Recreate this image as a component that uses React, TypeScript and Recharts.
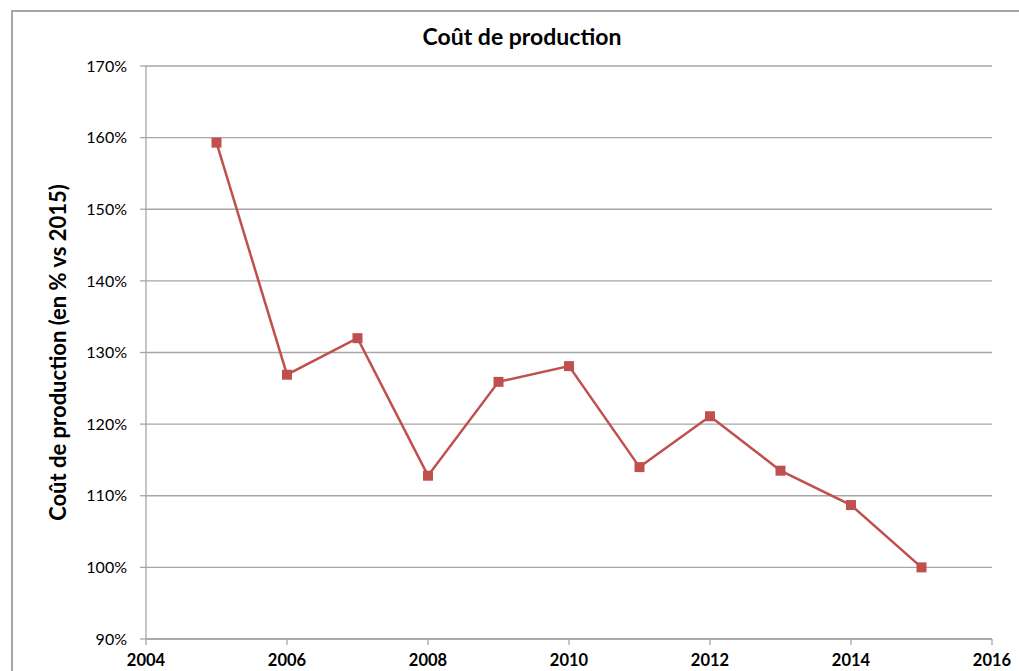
import { LineChart, Line, XAxis, YAxis, CartesianGrid } from 'recharts';

const years = [2005, 2006, 2007, 2008, 2009, 2010, 2011, 2012, 2013, 2014, 2015];
const cost = [159.3, 126.9, 132.0, 112.8, 125.9, 128.1, 114.0, 121.1, 113.5, 108.7, 100.0];
const xTicks = [2004, 2006, 2008, 2010, 2012, 2014, 2016];
const yTicks = [90, 100, 110, 120, 130, 140, 150, 160, 170];

const data = years.map((y, i) => ({ year: y, cost: cost[i] }));

const RED = '#c0504d';
const GRID = '#a6a6a6';
const FONT = 'Lato, "Open Sans", sans-serif';

const Square = (props: any) => {
	const { cx, cy, index } = props;
	if (cx == null || cy == null) return null;
	return <rect key={index} x={cx - 5} y={cy - 5} width={10} height={10} fill={RED} />;
};

export default function App() {
	return (
		<div style={{ position: 'absolute', left: 0, top: 0, width: 1019, height: 671, overflow: 'hidden', background: '#fff', fontFamily: FONT }}>
			{/* cadre du graphique */}
			<div style={{ position: 'absolute', left: 11, top: 10, width: 1100, height: 800, border: '2px solid #a6a6a6', boxSizing: 'border-box' }} />
			<div style={{ position: 'absolute', left: 0, width: 1044, top: 22, textAlign: 'center', fontSize: 23, fontWeight: 'bold', color: '#000' }}>
				Coût de production
			</div>
			<div style={{ position: 'absolute', left: 0, top: 0 }}>
				<LineChart width={1019} height={671} data={data} margin={{ top: 66, right: 27, left: 0, bottom: 0 }}>
					<CartesianGrid vertical={false} stroke={GRID} strokeWidth={1.3} />
					<XAxis
						type="number"
						dataKey="year"
						domain={[2004, 2016]}
						ticks={xTicks}
						height={32}
						stroke={GRID}
						strokeWidth={1.3}
						tickSize={6}
						tickMargin={9}
						tick={{ fill: '#000', fontSize: 16.5, fontWeight: 'bold', fontFamily: FONT }}
					/>
					<YAxis
						type="number"
						domain={[90, 170]}
						ticks={yTicks}
						width={146}
						stroke={GRID}
						strokeWidth={1.3}
						tickSize={6}
						tickMargin={13}
						tickFormatter={(v: number) => `${v}%`}
						tick={{ fill: '#000', fontSize: 16, fontFamily: FONT }}
						label={{
							value: 'Coût de production (en % vs 2015)',
							angle: -90,
							position: 'insideLeft',
							offset: 58,
							style: { textAnchor: 'middle', fontSize: 22, fontWeight: 'bold', fill: '#000', fontFamily: FONT },
						}}
					/>
					<Line
						type="linear"
						dataKey="cost"
						stroke={RED}
						strokeWidth={2.5}
						dot={Square}
						activeDot={false}
						isAnimationActive={false}
					/>
				</LineChart>
			</div>
		</div>
	);
}
